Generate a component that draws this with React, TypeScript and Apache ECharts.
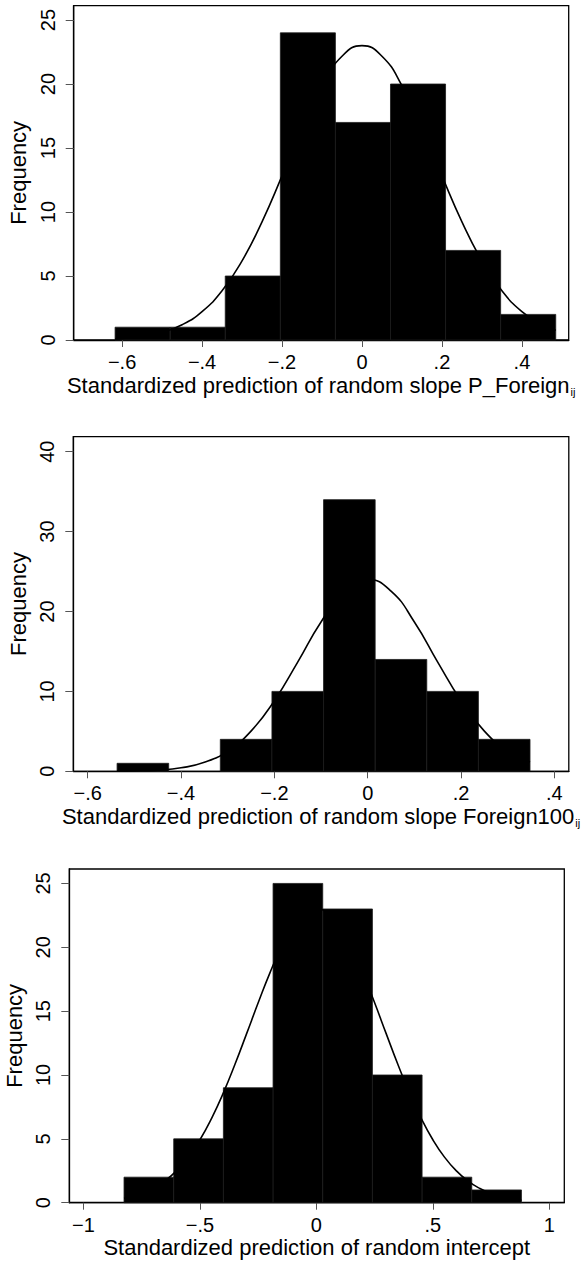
import React, { useEffect, useRef } from 'react';
import * as echarts from 'echarts';

const FONT = '"Liberation Sans", Arial, Helvetica, sans-serif';

// ---------- Panel 1: random slope P_Foreign ----------
const p1Edges = [-0.6175, -0.4797, -0.342, -0.2042, -0.0665, 0.0713, 0.209, 0.3468, 0.4846];
const p1Counts = [1, 1, 5, 24, 17, 20, 7, 2];
const p1CurveX = [-0.6175, -0.6, -0.55, -0.5, -0.45, -0.4, -0.35, -0.3, -0.25, -0.2, -0.15, -0.1, -0.05, 0, 0.05, 0.1, 0.15, 0.2, 0.25, 0.3, 0.35, 0.4, 0.45, 0.4846];
const p1CurveY = [0.08, 0.12, 0.28, 0.6, 1.19, 2.22, 3.84, 6.18, 9.23, 12.82, 16.56, 19.87, 22.17, 23.0, 22.17, 19.87, 16.56, 12.82, 9.23, 6.18, 3.84, 2.22, 1.19, 0.76];
const p1XTicks = [-0.6, -0.4, -0.2, 0, 0.2, 0.4];
const p1YTicks = [0, 5, 10, 15, 20, 25];
const p1Title = 'Standardized prediction of random slope P_Foreign';

// ---------- Panel 2: random slope Foreign100 ----------
const p2Edges = [-0.537, -0.4264, -0.3158, -0.2052, -0.0946, 0.016, 0.1266, 0.2372, 0.3478];
const p2Counts = [1, 0, 4, 10, 34, 14, 10, 4];
const p2CurveX = [-0.537, -0.5, -0.45, -0.4, -0.35, -0.3, -0.25, -0.2, -0.15, -0.1, -0.05, 0, 0.05, 0.1, 0.15, 0.2, 0.25, 0.3, 0.3478];
const p2CurveY = [0.02, 0.05, 0.15, 0.44, 1.12, 2.53, 5.03, 8.83, 13.67, 18.69, 22.55, 24.0, 22.55, 18.69, 13.67, 8.83, 5.03, 2.53, 1.16];
const p2XTicks = [-0.6, -0.4, -0.2, 0, 0.2, 0.4];
const p2YTicks = [0, 10, 20, 30, 40];
const p2Title = 'Standardized prediction of random slope Foreign100';

// ---------- Panel 3: random intercept ----------
const p3Edges = [-0.826, -0.6127, -0.3994, -0.1861, 0.0272, 0.2405, 0.4538, 0.6671, 0.8804];
const p3Counts = [2, 5, 9, 25, 23, 10, 2, 1];
const p3CurveX = [-0.826, -0.8, -0.75, -0.7, -0.65, -0.6, -0.55, -0.5, -0.45, -0.4, -0.35, -0.3, -0.25, -0.2, -0.15, -0.1, -0.05, 0, 0.05, 0.1, 0.15, 0.2, 0.25, 0.3, 0.35, 0.4, 0.45, 0.5, 0.55, 0.6, 0.65, 0.7, 0.75, 0.8, 0.85, 0.8804];
const p3CurveY = [0.34, 0.45, 0.72, 1.13, 1.71, 2.51, 3.57, 4.93, 6.61, 8.58, 10.82, 13.22, 15.65, 17.98, 20.03, 21.63, 22.65, 23.0, 22.65, 21.63, 20.03, 17.98, 15.65, 13.22, 10.82, 8.58, 6.61, 4.93, 3.57, 2.51, 1.71, 1.13, 0.72, 0.45, 0.27, 0.19];
const p3XTicks = [-1, -0.5, 0, 0.5, 1];
const p3YTicks = [0, 5, 10, 15, 20, 25];
const p3Title = 'Standardized prediction of random intercept';

const fmtX = (v: number) => {
  if (Math.abs(v) < 1e-9) return '0';
  const a = Math.abs(v);
  const s = a < 1 ? String(a).replace(/^0/, '') : String(a);
  return (v < 0 ? '\u2212' : '') + s;
};

const panels = [
  { edges: p1Edges, counts: p1Counts, cx: p1CurveX, cy: p1CurveY, xt: p1XTicks, yt: p1YTicks, title: p1Title, sub: true,
    grid: { left: 73.7, top: 5.7, width: 495, height: 334.3 }, xr: [-0.721, 0.517], yr: [0, 26.12] },
  { edges: p2Edges, counts: p2Counts, cx: p2CurveX, cy: p2CurveY, xt: p2XTicks, yt: p2YTicks, title: p2Title, sub: true,
    grid: { left: 73.3, top: 436.7, width: 495.5, height: 334.6 }, xr: [-0.6308, 0.4309], yr: [0, 41.88] },
  { edges: p3Edges, counts: p3Counts, cx: p3CurveX, cy: p3CurveY, xt: p3XTicks, yt: p3YTicks, title: p3Title, sub: false,
    grid: { left: 69.3, top: 869, width: 495, height: 333.7 }, xr: [-1.061, 1.0644], yr: [0, 26.13] },
];

const renderBar = (params: any, api: any) => {
  const x0 = api.value(0);
  const x1 = api.value(1);
  const c = api.value(2);
  if (!c) return { type: 'group', children: [] };
  const p0 = api.coord([x0, c]);
  const p1 = api.coord([x1, 0]);
  return {
    type: 'rect',
    shape: { x: p0[0], y: p0[1], width: p1[0] - p0[0], height: p1[1] - p0[1] },
    style: { fill: '#000', stroke: '#1c1c1c', lineWidth: 0.8 },
  };
};

export default function App() {
  const ref = useRef<HTMLDivElement>(null);
  useEffect(() => {
    if (!ref.current) return;
    const chart = echarts.init(ref.current, undefined, { renderer: 'svg' });
    const grid: any[] = [];
    const xAxis: any[] = [];
    const yAxis: any[] = [];
    const series: any[] = [];
    panels.forEach((p, i) => {
      grid.push({ ...p.grid, show: true, borderColor: '#000', borderWidth: 1.3, backgroundColor: 'transparent', containLabel: false, outerBoundsMode: 'none' });
      xAxis.push({
        gridIndex: i, type: 'value', min: p.xr[0], max: p.xr[1],
        axisLine: { show: true, onZero: false, lineStyle: { color: '#000', width: 1.3 } },
        axisTick: { show: true, length: 7, customValues: p.xt, lineStyle: { color: '#555', width: 1 } },
        axisLabel: { customValues: p.xt, formatter: fmtX, fontSize: 20, color: '#000', margin: 12, fontFamily: FONT },
        splitLine: { show: false },
        name: p.sub ? p.title + '{s|ij}' : p.title,
        nameLocation: 'middle', nameGap: 34,
        nameTextStyle: { fontSize: 22, color: '#000', fontFamily: FONT, rich: { s: { fontSize: 11, color: '#000', fontFamily: FONT, padding: [12, 0, 0, 1] } } },
      });
      yAxis.push({
        gridIndex: i, type: 'value', min: p.yr[0], max: p.yr[1],
        axisLine: { show: true, onZero: false, lineStyle: { color: '#000', width: 1.3 } },
        axisTick: { show: true, length: 8, customValues: p.yt, lineStyle: { color: '#555', width: 1 } },
        axisLabel: { customValues: p.yt, rotate: 90, fontSize: 20, color: '#000', margin: 16, fontFamily: FONT },
        splitLine: { show: false },
        name: 'Frequency', nameLocation: 'middle', nameGap: 38,
        nameTextStyle: { fontSize: 22, color: '#000', fontFamily: FONT },
      });
      const barData = p.counts.map((c, k) => [p.edges[k], p.edges[k + 1], c]);
      series.push({
        type: 'custom', xAxisIndex: i, yAxisIndex: i, renderItem: renderBar,
        encode: { x: [0, 1], y: 2 }, data: barData, z: 2, silent: true,
      });
      series.push({
        type: 'line', xAxisIndex: i, yAxisIndex: i, data: p.cx.map((x, k) => [x, p.cy[k]]),
        smooth: true, showSymbol: false, symbol: 'none', z: 3, silent: true,
        lineStyle: { color: '#000', width: 1.6 },
      });
    });
    chart.setOption({ animation: false, backgroundColor: '#fff', grid, xAxis, yAxis, series });
    return () => chart.dispose();
  }, []);
  return <div ref={ref} style={{ position: 'absolute', left: 0, top: 0, width: 583, height: 1263 }} />;
}
